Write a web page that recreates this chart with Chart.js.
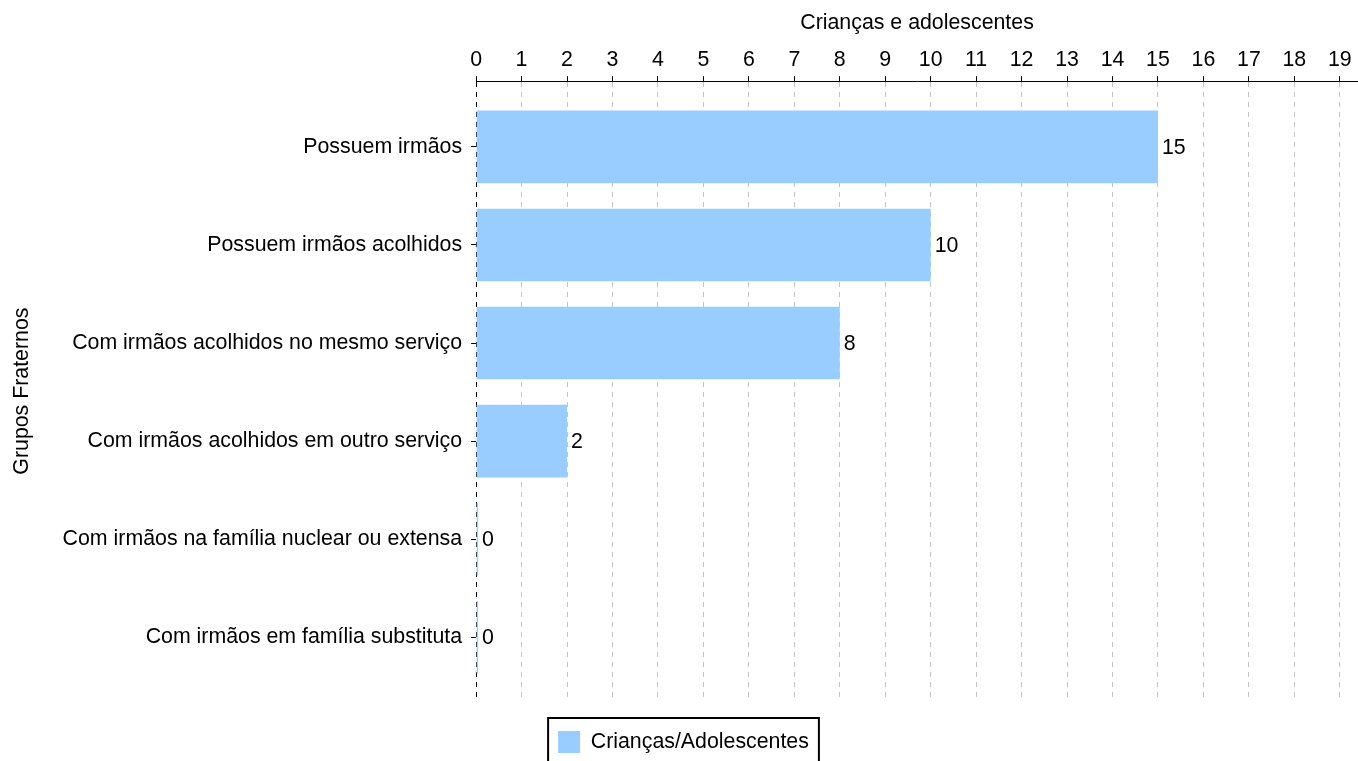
<!DOCTYPE html>
<html>
<head>
<meta charset="utf-8">
<script src="https://cdn.jsdelivr.net/npm/chart.js@4.4.1/dist/chart.umd.min.js"></script>
<style>
  html, body { margin: 0; padding: 0; background: #fff; }
  #wrap { width: 1358px; height: 761px; position: relative; }
</style>
</head>
<body>
<div id="wrap"><canvas id="grupos"></canvas></div>
<script>
const categories = [
    'Possuem irmãos',
    'Possuem irmãos acolhidos',
    'Com irmãos acolhidos no mesmo serviço',
    'Com irmãos acolhidos em outro serviço',
    'Com irmãos na família nuclear ou extensa',
    'Com irmãos em família substituta'
];
const values = [15, 10, 8, 2, 0, 0];
const xTicks = [0, 1, 2, 3, 4, 5, 6, 7, 8, 9, 10, 11, 12, 13, 14, 15, 16, 17, 18, 19];
const seriesName = 'Crianças/Adolescentes';
const xTitle = 'Crianças e adolescentes';
const yTitle = 'Grupos Fraternos';

const FONT = 'Liberation Sans, Arial, sans-serif';
const SIZE = 21.33;

// values next to the bar ends
const barValues = {
    id: 'barValues',
    afterDatasetsDraw(chart) {
        const { ctx } = chart;
        const meta = chart.getDatasetMeta(0);
        ctx.save();
        ctx.font = SIZE + 'px ' + FONT;
        ctx.fillStyle = '#000';
        ctx.textAlign = 'left';
        ctx.textBaseline = 'middle';
        meta.data.forEach((bar, i) => {
            ctx.fillText(String(values[i]), bar.x + 4, bar.y + 1);
        });
        ctx.restore();
    }
};

// black frame around the legend
const legendFrame = {
    id: 'legendFrame',
    afterDraw(chart) {
        const box = chart.legend.legendHitBoxes[0];
        if (!box) return;
        const { ctx } = chart;
        ctx.save();
        ctx.strokeStyle = '#000';
        ctx.lineWidth = 2;
        ctx.strokeRect(box.left - 10, box.top - 13, box.width + 20, 80);
        ctx.restore();
    }
};

new Chart(document.getElementById('grupos'), {
    type: 'bar',
    data: {
        datasets: [{
            label: seriesName,
            data: values.map((v, i) => ({ x: v, y: i })),
            backgroundColor: '#99CCFF',
            borderWidth: 0,
            minBarLength: 2,
            categoryPercentage: 1,
            barPercentage: 0.74
        }]
    },
    options: {
        indexAxis: 'y',
        responsive: true,
        maintainAspectRatio: false,
        animation: false,
        layout: { padding: { top: 10, right: 0, bottom: -2, left: 9 } },
        scales: {
            x: {
                type: 'linear',
                position: 'top',
                min: 0,
                max: 19.4,
                afterBuildTicks: axis => { axis.ticks = xTicks.map(v => ({ value: v })); },
                ticks: {
                    color: '#000',
                    padding: 3,
                    font: { family: FONT, size: SIZE }
                },
                grid: {
                    color: ctx => (ctx.tick && ctx.tick.value === 0) ? '#000' : '#c4c4c4',
                    tickColor: '#000',
                    tickLength: 5,
                    lineWidth: 1
                },
                border: { display: true, color: '#000', width: 1, dash: [5, 5] },
                title: {
                    display: true,
                    text: xTitle,
                    color: '#000',
                    padding: { top: 0, bottom: 9 },
                    font: { family: FONT, size: SIZE }
                }
            },
            y: {
                type: 'linear',
                reverse: true,
                offset: false,
                min: -0.67,
                max: 5.65,
                afterBuildTicks: axis => { axis.ticks = categories.map((c, i) => ({ value: i })); },
                ticks: {
                    color: '#000',
                    padding: 9,
                    font: { family: FONT, size: SIZE },
                    callback: v => categories[v]
                },
                grid: {
                    offset: false,
                    drawOnChartArea: false,
                    drawTicks: true,
                    tickLength: 5,
                    tickColor: '#000'
                },
                border: { display: false },
                title: {
                    display: true,
                    text: yTitle,
                    color: '#000',
                    padding: { top: 0, bottom: 19 },
                    font: { family: FONT, size: SIZE }
                }
            }
        },
        plugins: {
            legend: {
                position: 'bottom',
                title: { display: true, text: ' ', padding: { top: 0, bottom: 10 }, font: { size: 10, lineHeight: 1 } },
                labels: {
                    boxWidth: 22,
                    boxHeight: 22,
                    padding: 10,
                    color: '#000',
                    font: { family: FONT, size: SIZE }
                }
            },
            tooltip: { enabled: false }
        }
    },
    plugins: [barValues, legendFrame]
});
</script>
</body>
</html>
